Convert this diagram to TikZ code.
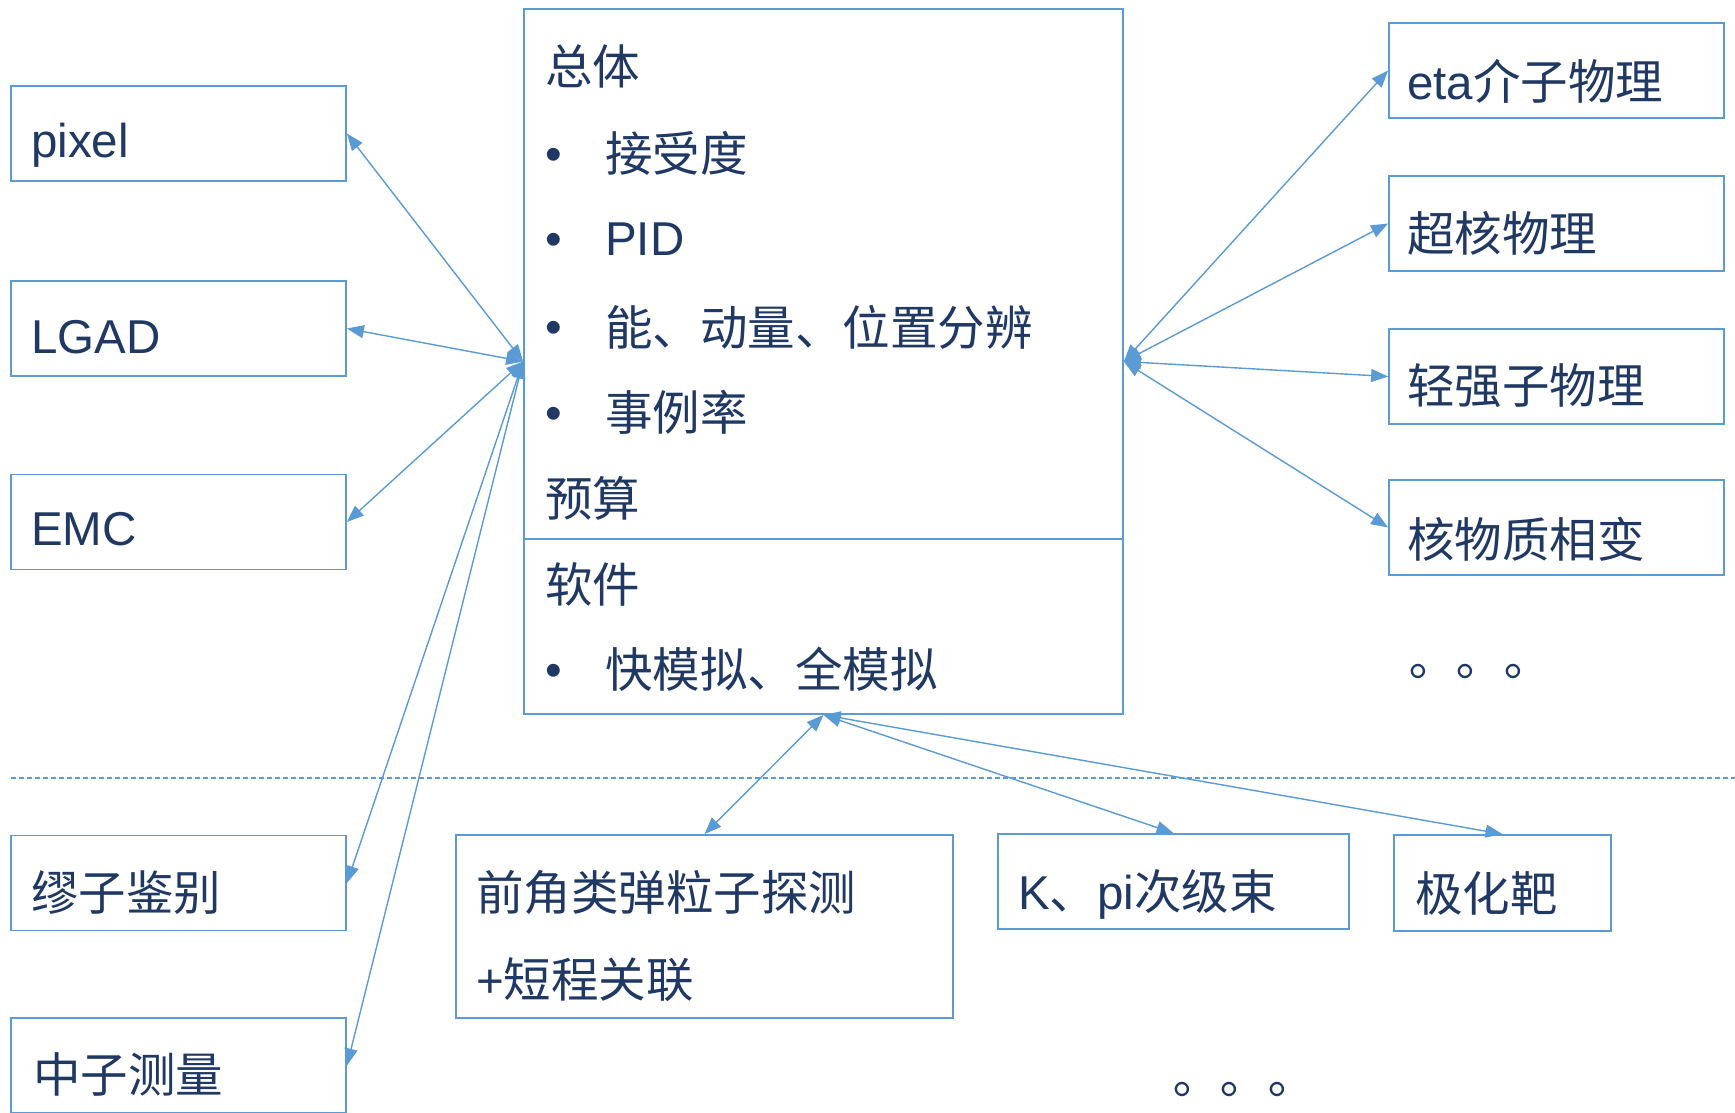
\documentclass[tikz,border=0pt]{standalone}
\usepackage{fontspec}
\setmainfont{Noto Sans CJK SC}
\newfontfamily\lat{Liberation Sans}
\newfontfamily\cjktc{Noto Sans CJK TC}
\usetikzlibrary{arrows.meta}
\definecolor{navy}{HTML}{1F3864}
\definecolor{lblue}{HTML}{5B9BD5}
\tikzset{
  boxn/.style={draw=lblue,line width=1.8pt,inner sep=0pt,rectangle},
  txt/.style={text=navy,inner sep=0pt,anchor=west,font=\fontsize{47.5}{56}\selectfont},
  conn/.style={draw=lblue,line width=1.4pt,{Triangle[length=17pt,width=13pt]}-{Triangle[length=17pt,width=13pt]}},
  sepline/.style={draw=lblue,line width=1.2pt,dash pattern=on 5pt off 3pt},
}
\begin{document}
\begin{tikzpicture}[x=1pt,y=-1pt]
\fill[white] (0,0) rectangle (1735,1112);
\clip (0,0) rectangle (1735,1112);
% main box
\node[boxn,minimum width=599pt,minimum height=705pt] (main) at (823.5,361.5) {};
\coordinate (divL) at (524,539);
\coordinate (divR) at (1123,539);
\draw[draw=lblue,line width=1.4pt] (divL) -- (divR);
% left boxes
\node[boxn,minimum width=335pt,minimum height=95pt] (pixel) at (178.5,133.5) {};
\node[boxn,minimum width=335pt,minimum height=95pt] (lgad) at (178.5,328.5) {};
\node[boxn,minimum width=335pt,minimum height=95pt] (emc) at (178.5,522) {};
\node[boxn,minimum width=335pt,minimum height=95pt] (muon) at (178.5,883) {};
\node[boxn,minimum width=335pt,minimum height=95pt] (neutron) at (178.5,1065.5) {};
% right boxes
\node[boxn,minimum width=335pt,minimum height=95pt] (eta) at (1556.5,70.5) {};
\node[boxn,minimum width=335pt,minimum height=95pt] (hyper) at (1556.5,223.5) {};
\node[boxn,minimum width=335pt,minimum height=95pt] (light) at (1556.5,376.5) {};
\node[boxn,minimum width=335pt,minimum height=95pt] (nucl) at (1556.5,527.5) {};
% bottom boxes
\node[boxn,minimum width=497pt,minimum height=183pt] (fwd) at (704.5,926.5) {};
\node[boxn,minimum width=351pt,minimum height=95pt] (kpi) at (1173.5,881.5) {};
\node[boxn,minimum width=217pt,minimum height=96pt] (pol) at (1502.5,883) {};
% dashed separator
\coordinate (dashL) at (11,778);
\coordinate (dashR) at (1735,778);
\draw[sepline] (dashL) -- (dashR);
% texts in main box
\node[txt] (t0) at (545,66) {总体};
\node[txt] (b1) at (545,159) {\lat •};
\node[txt] (t1) at (605,153) {接受度};
\node[txt] (b2) at (545,244) {\lat •};
\node[txt] (t2) at (605,239) {\lat PID};
\node[txt] (b3) at (545,332) {\lat •};
\node[txt] (t3) at (605,327) {能、动量、位置分辨};
\node[txt] (b4) at (545,418) {\lat •};
\node[txt] (t4) at (605,412) {事例率};
\node[txt] (t5) at (545,498) {预算};
\node[txt] (t6) at (545,584) {软件};
\node[txt] (b7) at (545,675) {\lat •};
\node[txt] (t7) at (605,669) {快模拟、全模拟};
% left texts
\node[txt] (lp) at (31,145) {\lat pixel};
\node[txt] (ll) at (31,337) {\lat LGAD};
\node[txt] (le) at (31,529) {\lat EMC};
\node[txt] (lm) at (31,893) {缪子鉴别};
\node[txt] (ln) at (33,1074) {中子测量};
% right texts
\node[txt] (re) at (1407,81) {{\lat eta}介子物理};
\node[txt] (rh) at (1407,233) {超核物理};
\node[txt] (rl) at (1407,386) {轻强子物理};
\node[txt] (rn) at (1407,539) {核物质相变};
\node[txt] (rd) at (1394,677) {\cjktc 。。。};
% bottom texts
\node[txt] (f1) at (476,893) {前角类弹粒子探测};
\node[txt] (f2) at (476,980) {{\lat +}短程关联};
\node[txt] (kt) at (1018,894) {{\lat K}、{\lat pi}次级束};
\node[txt] (pt) at (1415,893) {极化靶};
\node[txt] (bd) at (1158,1095) {\cjktc 。。。};
% connectors
\draw[conn] (main.west) -- (pixel.east);
\draw[conn] (main.west) -- (lgad.east);
\draw[conn] (main.west) -- (emc.east);
\draw[conn] (main.west) -- (muon.east);
\draw[conn] (main.west) -- (neutron.east);
\draw[conn] (main.east) -- (eta.west);
\draw[conn] (main.east) -- (hyper.west);
\draw[conn] (main.east) -- (light.west);
\draw[conn] (main.east) -- (nucl.west);
\draw[conn] (main.south) -- (fwd.north);
\draw[conn] (main.south) -- (kpi.north);
\draw[conn] (main.south) -- (pol.north);
\end{tikzpicture}
\end{document}
